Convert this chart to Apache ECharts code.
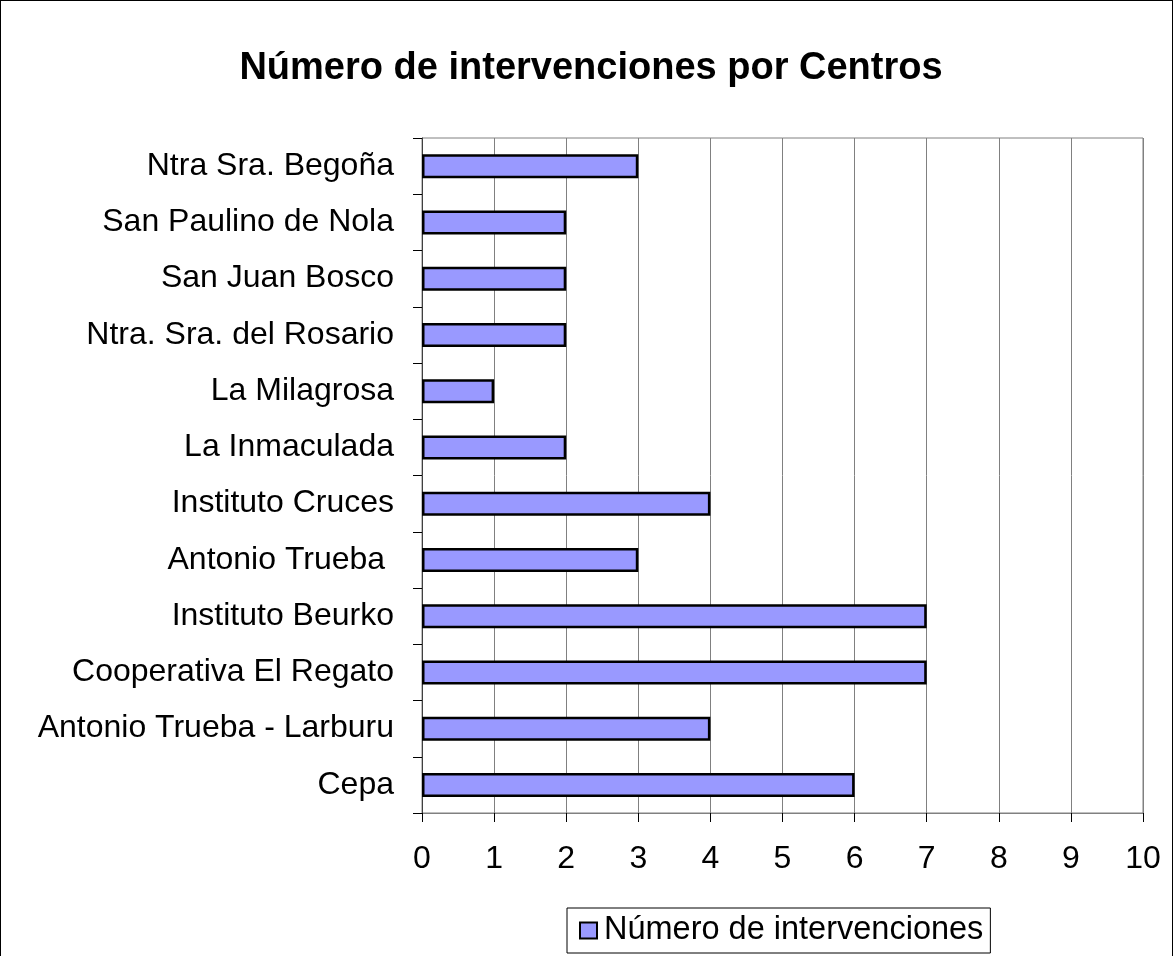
<!DOCTYPE html>
<html>
<head>
<meta charset="utf-8">
<script src="https://cdn.jsdelivr.net/npm/echarts@6/dist/echarts.min.js"></script>
<style>
html,body{margin:0;padding:0;background:#fff;}
#c{width:1173px;height:956px;box-sizing:border-box;border-top:1px solid #000;border-left:1px solid #000;border-right:1px solid #000;}
</style>
</head>
<body>
<div id="c"></div>
<script>
const categories = ["Ntra Sra. Begoña","San Paulino de Nola","San Juan Bosco","Ntra. Sra. del Rosario","La Milagrosa","La Inmaculada","Instituto Cruces","Antonio Trueba ","Instituto Beurko","Cooperativa El Regato","Antonio Trueba - Larburu","Cepa"];
const values = [3,2,2,2,1,2,4,3,7,7,4,6];
const seriesName = "Número de intervenciones";
const titleText = "Número de intervenciones por Centros";

const chart = echarts.init(document.getElementById('c'), null, {renderer:'canvas'});
chart.setOption({
  animation:false,
  backgroundColor:'#fff',
  title:{text:titleText,left:585,textAlign:'center',top:44,textStyle:{fontFamily:'Liberation Sans, Arial',fontSize:38,fontWeight:'bold',color:'#000'}},
  grid:{left:421,right:29,top:137,bottom:143,show:true,borderColor:'#808080',borderWidth:1,backgroundColor:'transparent'},
  legend:{bottom:3,left:566,data:[seriesName],itemWidth:17,itemHeight:16,itemGap:6,
    padding:[6,7,6,12],borderColor:'#000',borderWidth:1,
    textStyle:{fontFamily:'Liberation Sans, Arial',fontSize:32.5,color:'#000',padding:[0,0,0,2]},
    icon:'rect',itemStyle:{borderColor:'#000',borderWidth:2}},
  xAxis:{type:'value',min:0,max:10,interval:1,
    axisLine:{show:true,lineStyle:{color:'#808080',width:1}},
    axisTick:{show:true,length:9,lineStyle:{color:'#000'}},
    axisLabel:{fontFamily:'Liberation Sans, Arial',fontSize:32,color:'#000',margin:30},
    splitLine:{show:true,lineStyle:{color:'#808080',width:1}}},
  yAxis:{type:'category',data:categories,inverse:true,
    axisLine:{show:true,lineStyle:{color:'#404040',width:1}},
    axisTick:{show:true,length:9,inside:false,alignWithLabel:false,lineStyle:{color:'#000'}},
    axisLabel:{fontFamily:'Liberation Sans, Arial',fontSize:32,color:'#000',margin:28}},
  series:[{name:seriesName,type:'bar',data:values,barWidth:24,
    itemStyle:{color:'#9999FF',borderColor:'#000',borderWidth:2.5}}]
});
</script>
</body>
</html>
